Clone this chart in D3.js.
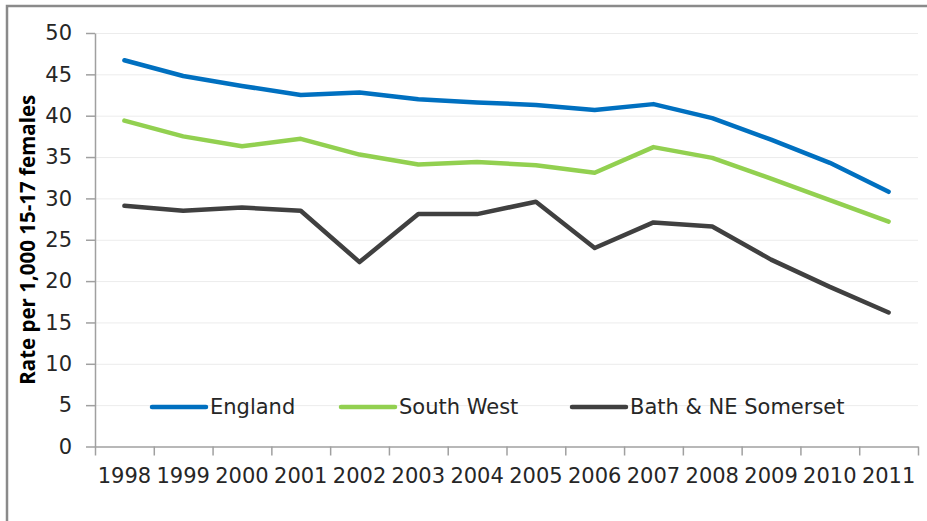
<!DOCTYPE html>
<meta charset="utf-8">
<style>
body { margin: 0; background: #fff; }
text { font-family: "DejaVu Sans", sans-serif; fill: #262626; }
.grid line { stroke: #ececec; stroke-width: 1; }
.grid .domain { display: none; }
.axis .domain, .axis line { stroke: #a0a0a0; stroke-width: 1.5; }
.series { fill: none; stroke-width: 4.5; stroke-linejoin: round; stroke-linecap: round; }
</style>
<svg width="927" height="521"></svg>
<script src="https://d3js.org/d3.v7.min.js"></script>
<script>

// data
var years = ["1998","1999","2000","2001","2002","2003","2004","2005","2006","2007","2008","2009","2010","2011"];
var england    = [46.7, 44.8, 43.6, 42.5, 42.8, 42.0, 41.6, 41.3, 40.7, 41.4, 39.7, 37.1, 34.3, 30.8];
var southWest  = [39.4, 37.5, 36.3, 37.2, 35.3, 34.1, 34.4, 34.0, 33.1, 36.2, 34.9, 32.4, 29.8, 27.2];
var bath       = [29.1, 28.5, 28.9, 28.5, 22.3, 28.1, 28.1, 29.6, 24.0, 27.1, 26.6, 22.6, 19.3, 16.2];
var seriesNames  = ["England", "South West", "Bath & NE Somerset"];
var seriesColors = ["#0070c0", "#92d050", "#404040"];
var yTicks = [0, 5, 10, 15, 20, 25, 30, 35, 40, 45, 50];

var svg = d3.select("svg");

var plotL = 95, plotR = 918, plotT = 33, plotB = 446.5;

// outer frame (right and bottom edges run off the picture)
svg.append("rect")
    .attr("x", 7).attr("y", 6)
    .attr("width", 960).attr("height", 560)
    .attr("fill", "none")
    .attr("stroke", "#8a8a8a")
    .attr("stroke-width", 2.5);

var x = d3.scaleBand().domain(years).range([plotL, plotR]);
var xEdges = d3.scaleLinear().domain([0, years.length]).range([plotL, plotR]);
var y = d3.scaleLinear().domain([0, 50]).range([plotB, plotT]);

svg.append("g")
    .attr("class", "grid")
    .attr("transform", "translate(" + plotL + ",0)")
    .call(d3.axisLeft(y).tickValues(yTicks.slice(1)).tickSize(-(plotR - plotL)).tickFormat(""));

// y axis
var ya = svg.append("g")
    .attr("class", "axis")
    .attr("transform", "translate(" + plotL + ",0)")
    .call(d3.axisLeft(y).tickValues(yTicks).tickSize(9).tickPadding(14).tickSizeOuter(0));
ya.selectAll("text").style("font-size", "21px");

// x axis: tick marks between categories, labels centred
svg.append("g")
    .attr("class", "axis")
    .attr("transform", "translate(0," + plotB + ")")
    .call(d3.axisBottom(xEdges).ticks(years.length).tickSize(9).tickFormat("").tickSizeOuter(0));

var xl = svg.append("g")
    .attr("transform", "translate(0," + plotB + ")")
    .call(d3.axisBottom(x).tickSize(0).tickPadding(22));
xl.select(".domain").remove();
xl.selectAll("text").style("font-size", "21px");

svg.append("text")
    .attr("transform", "translate(35," + ((plotT + plotB) / 2) + ") rotate(-90)")
    .attr("text-anchor", "middle")
    .style("font-family", "'Open Sans', sans-serif")
    .style("font-size", "20.5px")
    .style("font-weight", "bold")
    .style("fill", "#000")
    .text("Rate per 1,000 15-17 females");

var line = d3.line()
    .x(function(d, i) { return x(years[i]) + x.bandwidth() / 2; })
    .y(function(d) { return y(d); });

[england, southWest, bath].forEach(function(s, i) {
  svg.append("path")
      .datum(s)
      .attr("class", "series")
      .attr("stroke", seriesColors[i])
      .attr("d", line);
});

// legend inside plot
var legendX = [152, 341, 572];
var leg = svg.append("g");
seriesNames.forEach(function(n, i) {
  leg.append("line")
      .attr("x1", legendX[i]).attr("x2", legendX[i] + 54)
      .attr("y1", 407).attr("y2", 407)
      .attr("stroke", seriesColors[i])
      .attr("stroke-width", 4.5)
      .attr("stroke-linecap", "round");
  leg.append("text")
      .attr("x", legendX[i] + 58)
      .attr("y", 407)
      .attr("dy", "0.35em")
      .style("font-size", "21px")
      .text(n);
});

</script>
